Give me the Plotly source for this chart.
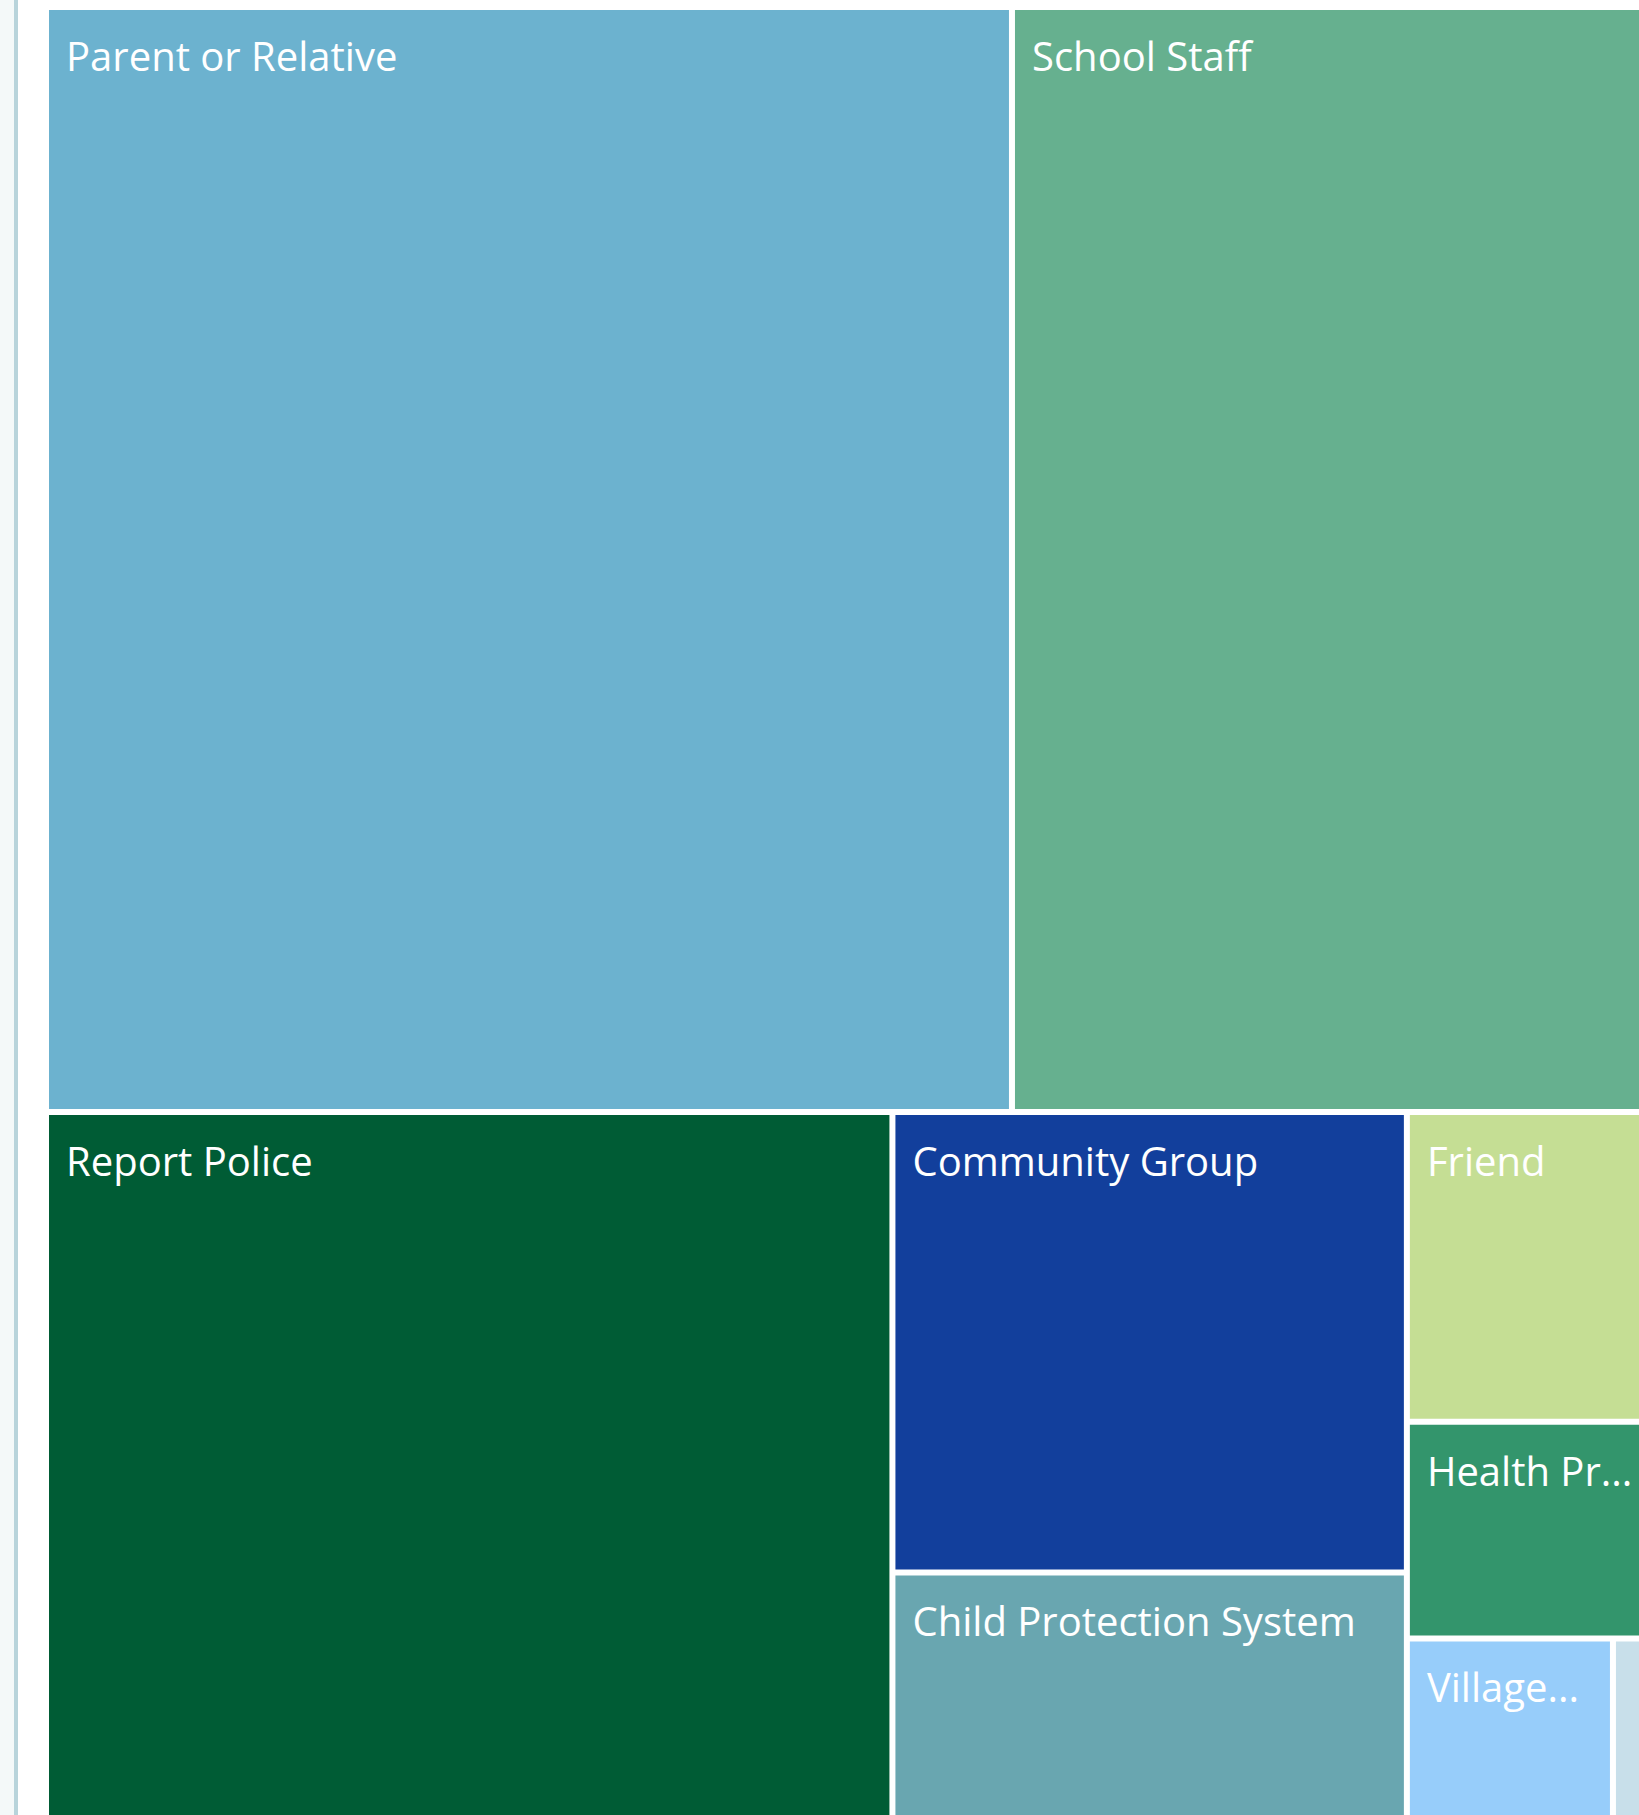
import plotly.graph_objects as go

# Categories (as displayed) and their values (read from tile areas)
categories = ["Parent or Relative", "School Staff", "Report Police", "Community Group",
              "Child Protection System", "Friend", "Health Pr...", "Village...", "Other"]
display_text = ["Parent or Relative", "School Staff", "Report Police", "Community Group",
                "Child Protection System", "Friend", "Health Pr...", "Village...", ""]
values = [1067.4, 768.0, 667.0, 236.9, 168.5, 93.0, 65.0, 53.9, 24.6]
colors = ["#6CB2CF", "#66B08F", "#005C35", "#123F9C", "#69A6B0",
          "#C5DE94", "#33956C", "#97CDFA", "#C8DFEA"]

FIG_W, FIG_H = 1710, 1900

# leading spacer (larger non-breaking space) gives the label its inset from the tile corner
spacer = '<span style="font-size:54px">\u00a0</span>'
labels_text = [spacer + t if t else "" for t in display_text]

fig = go.Figure(go.Treemap(
    labels=categories,
    parents=[""] * len(categories),
    values=values,
    text=labels_text,
    texttemplate="%{text}",
    textposition="top left",
    textfont=dict(family="Open Sans, Segoe UI, sans-serif", size=40, color="white"),
    marker=dict(colors=colors, line=dict(width=0), pad=dict(t=0, l=0, r=0, b=0)),
    tiling=dict(packing="squarify", squarifyratio=1, pad=6),
    pathbar=dict(visible=False),
    sort=True,
    hoverinfo="label+value",
    domain=dict(x=[49 / FIG_W, 1704 / FIG_W], y=[3 / FIG_H, 1890 / FIG_H]),
))

fig.update_layout(
    width=FIG_W, height=FIG_H,
    margin=dict(l=0, r=0, t=0, b=0, pad=0),
    paper_bgcolor="white", plot_bgcolor="white",
    showlegend=False,
    shapes=[
        dict(type="rect", xref="paper", yref="paper", x0=0, x1=14 / FIG_W, y0=0, y1=1,
             fillcolor="#F4F9F9", line=dict(width=0), layer="below"),
        dict(type="rect", xref="paper", yref="paper", x0=14 / FIG_W, x1=18 / FIG_W, y0=0, y1=1,
             fillcolor="#B8D4DB", line=dict(width=0), layer="below"),
    ],
)

post = """
var gd = document.getElementById('{plot_id}');
document.documentElement.style.overflow = 'hidden';
document.body.style.margin = '0';
document.body.style.overflow = 'hidden';
var w = gd.parentElement;
w.style.width = '1639px';
w.style.height = '1815px';
w.style.overflow = 'hidden';
"""

fig.write_html("out.html", post_script=post)
